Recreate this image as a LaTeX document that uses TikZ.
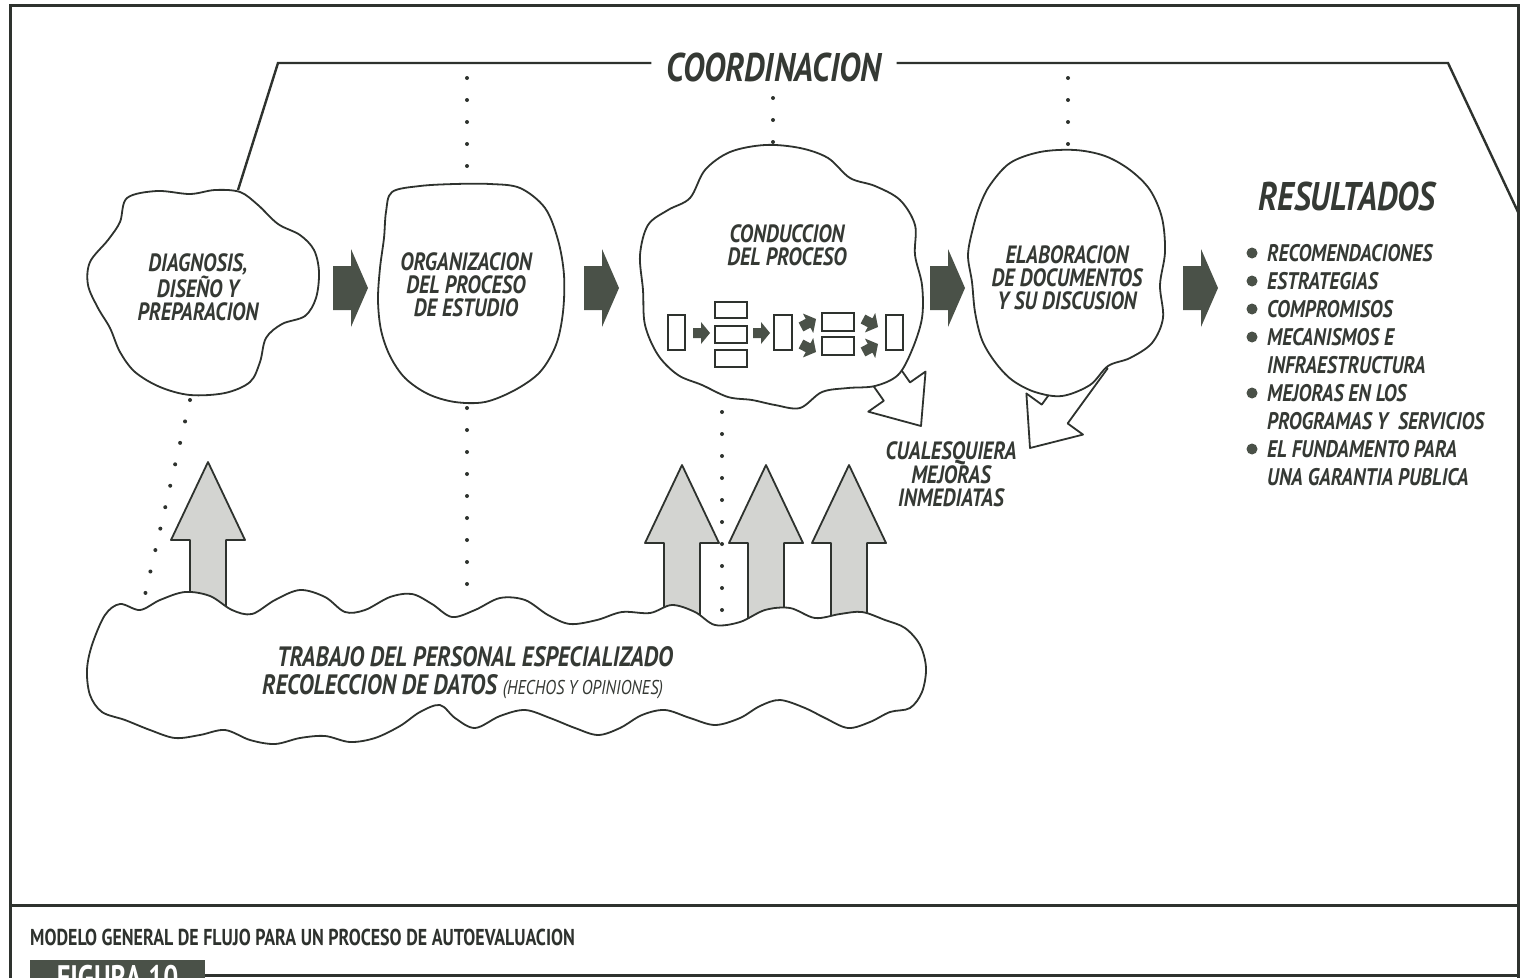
\documentclass[tikz,border=0pt]{standalone}
\usepackage{fontspec}
\setmainfont{PT Sans}
\newfontfamily\hand[FakeStretch=0.82]{PT Sans}
\newfontfamily\capfont[FakeStretch=0.78]{PT Sans}
\definecolor{ink}{HTML}{2E322E}
\definecolor{textink}{HTML}{353934}
\definecolor{blockfill}{HTML}{4A5148}
\definecolor{shade}{HTML}{D3D4D1}
\tikzset{
  outline/.style={draw=ink, line width=1.8pt, line join=round},
  cloudshape/.style={outline, fill=white},
  framerule/.style={draw=ink, line width=3pt},
  coordline/.style={draw=ink, line width=2.4pt, line join=miter},
  dotline/.style={draw=ink, line width=4pt, line cap=round, dash pattern=on 0pt off 22pt},
  handfont/.style={font=\hand\bfseries\itshape\fontsize{#1}{#1}\selectfont},
  lbl/.style={font=\hand\bfseries\itshape\fontsize{25}{23}\selectfont, text=textink, align=center, inner sep=0pt},
  biglbl/.style={handfont=40, text=textink, inner sep=0pt},
  item/.style={handfont=24, text=textink, inner sep=0pt,
               text height=16.8pt, text depth=0pt, anchor=west},
  % dark block arrow between stages, tip at origin, pointing right
  darrow/.pic={\fill[blockfill] (-35,-22) -- (-17,-22) -- (-17,-39) -- (0,0)
                 -- (-17,39) -- (-17,22) -- (-35,22) -- cycle;},
  % shaded upward arrow, tip at origin
  uparrow/.pic={\draw[outline, fill=shade] (0,0) -- (37,78) -- (18,78) -- (18,165)
                 -- (-18,165) -- (-18,78) -- (-37,78) -- cycle;},
  % hollow outlet arrow, tip at origin, pointing along +x
  harrow/.pic={\draw[outline, fill=white] (0,0) -- (-42,35) -- (-42,16) -- (-110,16)
                 -- (-110,-16) -- (-42,-16) -- (-42,-35) -- cycle;},
  % tiny flow arrow inside the process cloud
  sarrow/.pic={\fill[blockfill] (0,0) -- (-9,11) -- (-9,5) -- (-17,5) -- (-17,-5)
                 -- (-9,-5) -- (-9,-11) -- cycle;},
  flowbox/.style={draw=ink, line width=1.5pt, fill=white},
}
\begin{document}
\begin{tikzpicture}[x=1pt,y=-1pt]
\useasboundingbox (0,0) rectangle (1520,977);
\clip (0,0) rectangle (1520,977);
\fill[white] (0,0) rectangle (1520,977);

% ---------- outer frame ----------
\coordinate (fTL) at (10,5);
\coordinate (fTR) at (1518,5);
\coordinate (fBL) at (10,985);
\coordinate (fBR) at (1518,985);
\coordinate (dL) at (10,905);
\coordinate (dR) at (1518,905);
\draw[framerule] (fBL) -- (fTL) -- (fTR) -- (fBR);
\draw[framerule] (dL) -- (dR);

% ---------- coordination bracket ----------
\node[biglbl, inner xsep=15pt] (coordtxt) at (774,67) {COORDINACION};
\coordinate (cA) at (238,190);
\coordinate (cB) at (278,63);
\coordinate (cC) at (1448,63);
\coordinate (cD) at (1518,212);
\draw[coordline] (cA) -- (cB) -- (cB -| coordtxt.west);
\draw[coordline] (cB -| coordtxt.east) -- (cC) -- (cD);

% ---------- dotted guide lines ----------
\coordinate (g1a) at (467,78);   \coordinate (g1b) at (467,180);
\coordinate (g2a) at (773,98);   \coordinate (g2b) at (773,145);
\coordinate (g3a) at (1068,78);  \coordinate (g3b) at (1068,148);
\draw[dotline] (g1a) -- (g1b);
\draw[dotline] (g2a) -- (g2b);
\draw[dotline] (g3a) -- (g3b);

% ---------- shaded input arrows ----------
\pic at (208,462) {uparrow};
\pic at (682,465) {uparrow};
\pic at (766,465) {uparrow};
\pic at (849,465) {uparrow};

% ---------- hollow outlet arrows ----------
\pic[rotate=-55] at (921,426) {harrow};
\pic[rotate=-126] at (1030,448) {harrow};

% ---------- stage clouds ----------
\draw[cloudshape] plot[smooth cycle, tension=0.55] coordinates {
  (127,198) (157,191) (190,194) (215,190) (240,192) (258,205) (278,224) (300,235)
  (314,250) (319,272) (316,298) (305,316) (282,324) (266,338) (260,362) (250,382)
  (225,393) (190,395) (160,387) (135,372) (120,352) (110,328) (98,308) (88,285)
  (90,262) (108,240) (120,222)};
\draw[cloudshape] plot[smooth cycle, tension=0.55] coordinates {
  (392,192) (420,186) (455,184) (490,184) (520,188) (545,208) (558,240) (564,275)
  (563,312) (556,345) (540,372) (515,390) (485,402) (455,402) (428,394) (405,378)
  (390,356) (381,330) (378,300) (380,268) (384,238) (386,212)};
\draw[cloudshape] plot[smooth cycle, tension=0.55] coordinates {
  (690,198) (705,170) (730,152) (765,145) (800,148) (828,158) (850,178) (875,186)
  (900,200) (915,225) (915,255) (922,285) (922,318) (912,350) (898,375) (875,386)
  (848,388) (822,392) (800,408) (775,405) (752,400) (728,397) (702,385) (678,375)
  (658,355) (645,325) (643,290) (640,255) (648,225) (668,210)};
\draw[cloudshape] plot[smooth cycle, tension=0.55] coordinates {
  (990,185) (1010,163) (1040,152) (1075,150) (1105,156) (1130,170) (1150,190)
  (1162,218) (1165,252) (1160,285) (1163,318) (1152,343) (1130,358) (1108,366)
  (1090,385) (1062,396) (1035,392) (1012,380) (995,362) (982,340) (975,312)
  (972,282) (968,255) (973,228) (980,205)};

% ---------- staff work cloud ----------
\draw[cloudshape] plot[smooth cycle, tension=0.55] coordinates {
  (105,615) (120,604) (140,610) (160,600) (185,592) (210,596) (232,610) (252,614)
  (275,600) (300,590) (325,597) (345,612) (365,610) (390,597) (412,594) (432,604)
  (452,617) (475,610) (500,598) (525,600) (548,615) (570,624) (597,620) (622,612)
  (650,613) (672,605) (695,612) (715,625) (740,622) (765,610) (790,608) (815,618)
  (840,614) (862,612) (885,620) (905,628) (920,645) (926,668) (922,692) (910,708)
  (890,712) (870,722) (848,728) (825,718) (805,708) (780,700) (760,706) (740,718)
  (715,725) (690,718) (665,710) (642,715) (620,728) (598,735) (575,728) (550,718)
  (525,710) (500,716) (475,728) (455,718) (440,705) (420,712) (400,726) (375,738)
  (350,742) (325,736) (300,738) (275,744) (250,740) (225,730) (200,735) (175,738)
  (150,730) (125,720) (102,712) (90,695) (87,670) (92,645)};

% dotted guides below the stages
\coordinate (g4a) at (467,408);  \coordinate (g4b) at (467,588);
\coordinate (g5a) at (190,400);  \coordinate (g5b) at (145,595);
\coordinate (g6a) at (722,412);  \coordinate (g6b) at (722,625);
\draw[dotline] (g4a) -- (g4b);
\draw[dotline] (g5a) -- (g5b);
\draw[dotline] (g6a) -- (g6b);

% ---------- dark arrows between stages ----------
\pic at (368,288) {darrow};
\pic at (619,288) {darrow};
\pic at (965,288) {darrow};
\pic at (1218,288) {darrow};

% ---------- small flow chart inside the process cloud ----------
\node[flowbox, minimum width=17pt, minimum height=35pt, inner sep=0pt] (b1) at (676.5,332.5) {};
\node[flowbox, minimum width=32pt, minimum height=16pt, inner sep=0pt] (b2a) at (731,310) {};
\node[flowbox, minimum width=32pt, minimum height=17pt, inner sep=0pt] (b2b) at (731,334.5) {};
\node[flowbox, minimum width=32pt, minimum height=17pt, inner sep=0pt] (b2c) at (731,358.5) {};
\node[flowbox, minimum width=18pt, minimum height=35pt, inner sep=0pt] (b3) at (783,332.5) {};
\node[flowbox, minimum width=32pt, minimum height=18pt, inner sep=0pt] (b4a) at (838,322) {};
\node[flowbox, minimum width=32pt, minimum height=18pt, inner sep=0pt] (b4b) at (838,346) {};
\node[flowbox, minimum width=17pt, minimum height=35pt, inner sep=0pt] (b5) at (894.5,332.5) {};
\pic at (710,333) {sarrow};
\pic at (770,333) {sarrow};
\pic[rotate=28] at (816,319) {sarrow};
\pic[rotate=-28] at (816,352) {sarrow};
\pic[rotate=-28] at (878,327) {sarrow};
\pic[rotate=28] at (878,344) {sarrow};

% ---------- stage labels ----------
\node[lbl] (s1) at (198,287) {DIAGNOSIS,\\DISEÑO Y\\PREPARACION};
\node[lbl] (s2) at (466,285) {ORGANIZACION\\DEL PROCESO\\DE ESTUDIO};
\node[lbl] (s3) at (787,245) {CONDUCCION\\DEL PROCESO};
\node[lbl] (s4) at (1067,278) {ELABORACION\\DE DOCUMENTOS\\Y SU DISCUSION};
\node[lbl] (imm) at (951,474) {CUALESQUIERA\\MEJORAS\\INMEDIATAS};

\node[handfont=28, text=textink, inner sep=0pt, anchor=base]
  (w1) at (475,666) {TRABAJO DEL PERSONAL ESPECIALIZADO};
\node[handfont=28, text=textink, inner sep=0pt, anchor=base west]
  (w2) at (262,694) {RECOLECCION DE DATOS {\mdseries\fontsize{20}{20}\selectfont (HECHOS Y OPINIONES)}};

% ---------- results ----------
\node[handfont=40, text=textink, inner sep=0pt] (res) at (1347,196) {RESULTADOS};
\foreach \yy in {253,281,309,337,393,449} \fill[blockfill] (1252,\yy) circle (5.5pt);
\node[item] (r1) at (1267,253) {RECOMENDACIONES};
\node[item] (r2) at (1267,281) {ESTRATEGIAS};
\node[item] (r3) at (1267,309) {COMPROMISOS};
\node[item] (r4) at (1267,337) {MECANISMOS E};
\node[item] (r4b) at (1267,365) {INFRAESTRUCTURA};
\node[item] (r5) at (1267,393) {MEJORAS EN LOS};
\node[item] (r5b) at (1267,421) {PROGRAMAS Y\ \ SERVICIOS};
\node[item] (r6) at (1267,449) {EL FUNDAMENTO PARA};
\node[item] (r6b) at (1267,477) {UNA GARANTIA PUBLICA};

% ---------- caption ----------
\node[font=\capfont\bfseries\fontsize{23}{23}\selectfont, text=ink, inner sep=0pt, anchor=west]
  (cap) at (30,937) {MODELO GENERAL DE FLUJO PARA UN PROCESO DE AUTOEVALUACION};
\node[fill=blockfill, text=white, font=\capfont\bfseries\fontsize{34}{34}\selectfont,
      minimum width=175pt, minimum height=34pt, inner sep=0pt, anchor=north west,
      text depth=0pt] (tag) at (30,960) {FIGURA 10};
\coordinate (bR) at (1520,975);
\draw[framerule] (tag.north east |- bR) -- (bR);
\end{tikzpicture}
\end{document}
